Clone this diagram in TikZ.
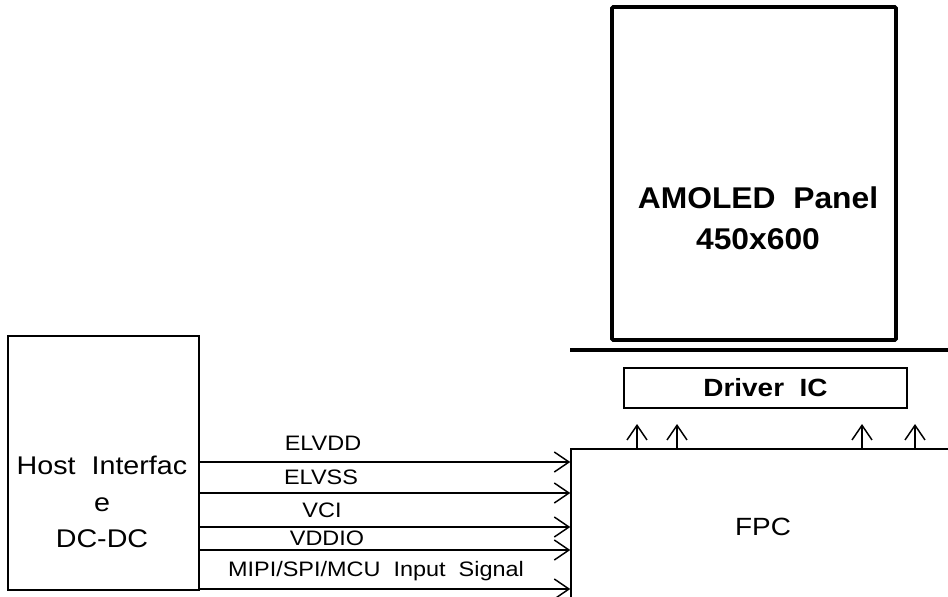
\documentclass[tikz,border=0pt]{standalone}
\usepackage{fontspec}
\setmainfont{Liberation Sans}
\usetikzlibrary{arrows.meta}
\newcommand{\wide}[2][1.12]{\scalebox{#1}[1]{#2}}
\begin{document}
\begin{tikzpicture}[x=0.75pt,y=-0.75pt,
  blk/.style={draw,line width=1.1pt,inner sep=0pt},
  sig/.style={line width=1.1pt,-{Straight Barb[length=11pt,width=15pt]}},
  lab/.style={anchor=base,inner sep=0pt,font=\fontsize{15.7}{18}\selectfont}]
\useasboundingbox (0,0) rectangle (948,596);
% panel and driver
\node[draw,line width=2.8pt,rounded corners=1pt,minimum width=213pt,minimum height=249.75pt] (panel) at (754,173.5) {};
\node[align=center,inner sep=0pt,font=\bfseries\fontsize{22.5}{31}\selectfont] (paneltxt) at (758,218) {\wide[1.06]{AMOLED\ \ Panel}\\\wide[1.06]{450x600}};
\coordinate (sepL) at (570,350);
\coordinate (sepR) at (948,350);
\draw[line width=2.3pt] (sepL) -- (sepR);
\node[blk,line width=1pt,minimum width=212.25pt,minimum height=30pt,font=\bfseries\fontsize{18.7}{22}\selectfont] (drv) at (765.5,388) {\raisebox{-2pt}{\wide{Driver\ \ IC}}};
% fpc
\node[blk,minimum width=315pt,minimum height=150pt] (fpc) at (781,549) {};
\node[inner sep=0pt,font=\fontsize{18.7}{22}\selectfont] (fpctxt) at (763,527) {\wide{FPC}};
\foreach \x/\n in {637/1,677/2,862/3,915/4}{
  \coordinate (u\n) at (\x,424);
  \draw[sig] (fpc.north -| u\n) -- (u\n);
}
% host
\node[blk,minimum width=143.25pt,minimum height=190.5pt] (host) at (103.5,463) {};
\node[align=center,inner sep=0pt,font=\fontsize{19.2}{27.5}\selectfont] (hosttxt) at (102,502) {\wide{Host\ \ Interfac}\\\wide{e}\\\wide{DC-DC}};
\foreach \y/\n in {462/1,493/2,527/3,550/4,589/5}{
  \coordinate (s\n) at (0,\y);
  \draw[sig] (host.east |- s\n) -- (fpc.west |- s\n);
}
\node[lab] (l1) at (323,450) {\wide{ELVDD}};
\node[lab] (l2) at (321,484) {\wide{ELVSS}};
\node[lab] (l3) at (322,517) {\wide{VCI}};
\node[lab] (l4) at (327,545) {\wide{VDDIO}};
\node[lab] (l5) at (376,576) {\wide{MIPI/SPI/MCU\ \ Input\ \ Signal}};
\end{tikzpicture}
\end{document}
